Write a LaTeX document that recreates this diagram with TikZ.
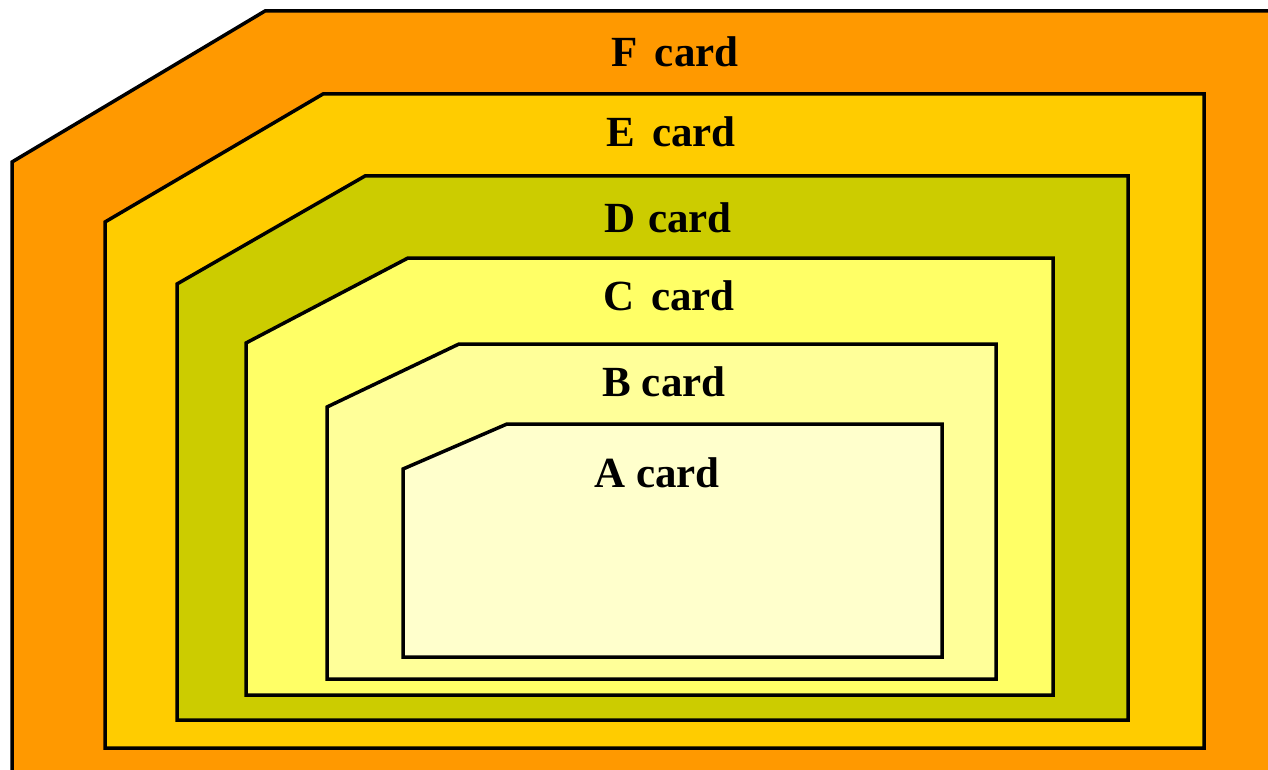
\documentclass[tikz,border=0pt]{standalone}
\usepackage{fontspec}
\setmainfont{Liberation Serif}
\usepackage{tikz}

\definecolor{cardF}{HTML}{FF9900}
\definecolor{cardE}{HTML}{FFCC00}
\definecolor{cardD}{HTML}{CCCC00}
\definecolor{cardC}{HTML}{FFFF66}
\definecolor{cardB}{HTML}{FFFF99}
\definecolor{cardA}{HTML}{FFFFCC}

\tikzset{
  cardshape/.style={draw=black,line width=3.5pt,line join=miter},
  cardlabel/.style={anchor=base,font=\fontsize{43}{50}\selectfont\bfseries}
}

\begin{document}
\begin{tikzpicture}[x=1pt,y=-1pt]
                \useasboundingbox (0,0) rectangle (1268,770);
                \clip (0,0) rectangle (1268,770);
                \fill[white] (0,0) rectangle (1268,770);

                \filldraw[cardshape,fill=cardF] (12,790) -- (12,162) -- (265,11) -- (1290,11) -- (1290,790) -- cycle;
                \filldraw[cardshape,fill=cardE] (105,748) -- (105,222) -- (323,94) -- (1204,94) -- (1204,748) -- cycle;
                \filldraw[cardshape,fill=cardD] (177,720) -- (177,284) -- (365,176) -- (1128,176) -- (1128,720) -- cycle;
                \filldraw[cardshape,fill=cardC] (246,695) -- (246,343) -- (408,258) -- (1053,258) -- (1053,695) -- cycle;
                \filldraw[cardshape,fill=cardB] (327,679) -- (327,407) -- (459,344) -- (996,344) -- (996,679) -- cycle;
                \filldraw[cardshape,fill=cardA] (403,657) -- (403,469) -- (507,424) -- (942,424) -- (942,657) -- cycle;

                \node[cardlabel] (F) at (675,67) {F\hspace{0.4em}card};
                \node[cardlabel] (E) at (671,147) {E\hspace{0.4em}card};
                \node[cardlabel] (D) at (668,232) {D\hspace{0.3em}card};
                \node[cardlabel] (C) at (669,310) {C\hspace{0.4em}card};
                \node[cardlabel] (B) at (664,396) {B card};
                \node[cardlabel] (A) at (657,487) {A card};
            \end{tikzpicture}
\end{document}
